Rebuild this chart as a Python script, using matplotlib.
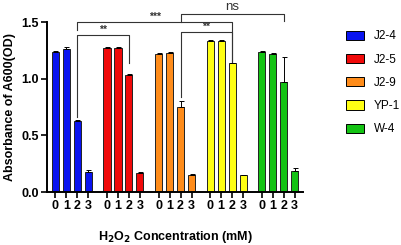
import numpy as np
import matplotlib
matplotlib.use("Agg")
import matplotlib.pyplot as plt
from matplotlib.patches import Patch

plt.rcParams['font.family'] = ['Liberation Sans', 'DejaVu Sans']

# data
strains = ["J2-4", "J2-5", "J2-9", "YP-1", "W-4"]
colors = ["#0a14f0", "#f00a0a", "#ff8c1a", "#ffff14", "#14c314"]
conc_labels = ["0", "1", "2", "3"]
means = {
    "J2-4": [1.235, 1.265, 0.627, 0.175],
    "J2-5": [1.268, 1.268, 1.035, 0.172],
    "J2-9": [1.218, 1.228, 0.752, 0.152],
    "YP-1": [1.335, 1.333, 1.135, 0.150],
    "W-4": [1.236, 1.222, 0.975, 0.185],
}
errs = {
    "J2-4": [0.012, 0.015, 0.008, 0.022],
    "J2-5": [0.010, 0.010, 0.008, 0.008],
    "J2-9": [0.008, 0.006, 0.055, 0.004],
    "YP-1": [0.006, 0.006, 0.005, 0.005],
    "W-4": [0.008, 0.008, 0.220, 0.028],
}
# brackets: (group a, group b, bar height, leg end a, leg end b, label)
brackets = [
    (0, 1, 1.385, 0.66, 1.14, "**"),
    (2, 3, 1.41, 0.84, 1.15, "**"),
    (0, 3, 1.50, 1.43, 1.15, "***"),
    (2, 4, 1.575, 1.50, 1.51, "ns"),
]

gap = 4.7
width = 0.65

fig = plt.figure(figsize=(4.01, 2.45), dpi=100)
ax = fig.add_axes([0.117, 0.216, 0.639, 0.694])

xticks = []
for g, s in enumerate(strains):
    x = g * gap + np.arange(4)
    xticks.extend(x)
    ax.bar(x, means[s], width, color=colors[g], edgecolor="#222222", linewidth=0.7, zorder=2)
    ax.errorbar(x, means[s], yerr=[np.zeros(4), errs[s]], fmt="none", ecolor="black",
                elinewidth=0.7, capsize=1.8, capthick=0.7, zorder=3)

def bar3_x(g):
    return g * gap + 2

for ga, gb, h, ya, yb, lab in brackets:
    xa, xb = bar3_x(ga), bar3_x(gb)
    ax.plot([xa, xa, xb, xb], [ya, h, h, yb], color="#333333", lw=0.8, clip_on=False, zorder=4)
    if lab == "ns":
        ax.text((xa + xb) / 2, h + 0.005, lab, ha="center", va="bottom", fontsize=9.5, color="#333333")
    else:
        ax.text((xa + xb) / 2, h + 0.005, lab, ha="center", va="bottom", fontsize=7.5,
                fontweight="bold", color="#333333")

ax.set_xlim(-0.77, 4 * gap + 3 + 0.77)
ax.set_ylim(0, 1.5)
ax.set_yticks([0, 0.5, 1.0, 1.5])
ax.set_yticklabels(["0.0", "0.5", "1.0", "1.5"], fontweight="bold", fontsize=9)
ax.set_xticks(xticks)
ax.set_xticklabels(conc_labels * len(strains), fontweight="bold", fontsize=9)
ax.tick_params(axis="both", width=1.2, length=4, pad=2)
ax.spines["top"].set_visible(False)
ax.spines["right"].set_visible(False)
ax.spines["left"].set_linewidth(1.4)
ax.spines["bottom"].set_linewidth(1.4)

ax.set_ylabel("Absorbance of A600(OD)", fontweight="bold", fontsize=9, labelpad=4)
ax.set_xlabel("H$_\\mathbf{2}$O$_\\mathbf{2}$ Concentration (mM)", fontweight="bold", fontsize=9, labelpad=12)

handles = [Patch(facecolor=c, edgecolor="black", linewidth=0.7) for c in colors]
fig.legend(handles, strains, loc="upper left", bbox_to_anchor=(0.852, 0.895),
           frameon=False, fontsize=8.5, handlelength=1.5, handleheight=0.8,
           labelspacing=0.95, handletextpad=0.8, borderaxespad=0)

fig.savefig("out.png", dpi=100)
